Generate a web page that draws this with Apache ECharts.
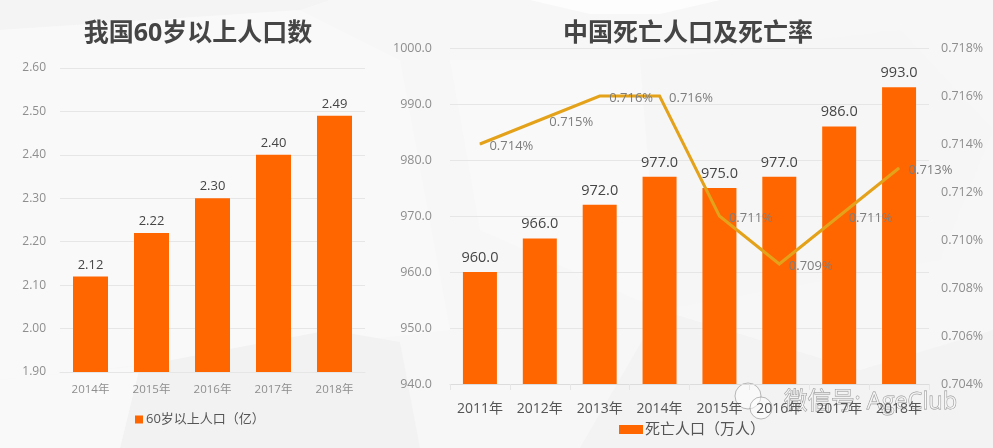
<!DOCTYPE html>
<html><head><meta charset="utf-8">
<style>html,body{margin:0;padding:0;background:#f8f8f8}#c{width:993px;height:448px}</style>
<script src="https://cdn.jsdelivr.net/npm/echarts@6/dist/echarts.min.js"></script>
</head><body><div id="c"></div>
<script>
const elderYears = ['2014年','2015年','2016年','2017年','2018年'];
const elderValues = [2.12,2.22,2.30,2.40,2.49];
const deathYears = ['2011年','2012年','2013年','2014年','2015年','2016年','2017年','2018年'];
const deathValues = [960,966,972,977,975,977,986,993];
const deathRates = [0.714,0.715,0.716,0.716,0.711,0.709,0.711,0.713];
const elderTitle = '我国60岁以上人口数';
const deathTitle = '中国死亡人口及死亡率';
const elderName = '60岁以上人口（亿）';
const deathName = '死亡人口（万人）';
const rateName = '死亡率';

const FONT = '"Open Sans","Noto Sans CJK SC",sans-serif';
const ORANGE = '#ff6600', GOLD = '#e3a21a', TICK = '#8e8e8e', DARK = '#454545', GRID = '#e6e6e6';
const poly = (pts, fill) => ({type:'polygon', silent:true, z:-10, shape:{points:pts}, style:{fill}});
const chart = echarts.init(document.getElementById('c'), null, {renderer:'canvas'});
chart.setOption({
  animation:false,
  backgroundColor:'#f7f7f7',
  textStyle:{fontFamily:FONT},
  title:[
    {text:elderTitle,left:193,top:16,textAlign:'center',textStyle:{fontSize:25,fontWeight:'bold',color:DARK,fontFamily:FONT}},
    {text:deathTitle,left:683,top:16,textAlign:'center',textStyle:{fontSize:25,fontWeight:'bold',color:DARK,fontFamily:FONT}}
  ],
  legend:[
    {data:[elderName],left:130,top:408,itemWidth:8,itemHeight:8,itemGap:4,icon:'rect',textStyle:{fontSize:13,color:'#555',padding:[0,0,0,-2]}},
    {data:[deathName],left:614,top:417,itemWidth:24,itemHeight:9,icon:'rect',textStyle:{fontSize:15,color:'#555',padding:[0,0,0,-3]}}
  ],
  grid:[
    {left:60,right:628,top:68,bottom:76},
    {left:450,right:64,top:48,bottom:64}
  ],
  xAxis:[
    {type:'category',gridIndex:0,data:elderYears,axisTick:{show:false},axisLine:{lineStyle:{color:GRID}},
     axisLabel:{color:TICK,fontSize:11.5,margin:12}},
    {type:'category',gridIndex:1,data:deathYears,axisTick:{show:true,length:6,lineStyle:{color:GRID}},axisLine:{lineStyle:{color:'#dcdcdc'}},
     axisLabel:{color:'#555',fontSize:14,margin:18,interval:0}}
  ],
  yAxis:[
    {type:'value',gridIndex:0,min:1.9,max:2.6,interval:0.1,axisLine:{show:false},axisTick:{show:false},
     splitLine:{lineStyle:{color:GRID}},axisLabel:{color:TICK,fontSize:12,margin:14,formatter:v=>v.toFixed(2)}},
    {type:'value',gridIndex:1,min:940,max:1000,interval:10,axisLine:{show:false},axisTick:{show:false},
     splitLine:{lineStyle:{color:GRID}},axisLabel:{color:TICK,fontSize:12.5,margin:18,formatter:v=>v.toFixed(1)}},
    {type:'value',gridIndex:1,position:'right',min:0.704,max:0.718,interval:0.002,axisLine:{show:false},axisTick:{show:false},
     splitLine:{show:false},axisLabel:{color:TICK,fontSize:12.5,margin:12,formatter:v=>v.toFixed(3)+'%'}}
  ],
  series:[
    {name:elderName,type:'bar',xAxisIndex:0,yAxisIndex:0,data:elderValues,barWidth:35,itemStyle:{color:ORANGE},
     label:{show:true,position:'top',distance:5,fontSize:13,color:DARK,formatter:p=>p.value.toFixed(2)}},
    {name:deathName,type:'bar',xAxisIndex:1,yAxisIndex:1,data:deathValues,barWidth:34,itemStyle:{color:ORANGE},
     label:{show:true,position:'top',distance:7,fontSize:14.5,color:DARK,formatter:p=>p.value.toFixed(1)}},
    {name:rateName,type:'line',xAxisIndex:1,yAxisIndex:2,data:deathRates,z:5,showSymbol:true,symbol:'circle',symbolSize:1,
     itemStyle:{color:GOLD},lineStyle:{color:GOLD,width:3,join:'miter'},
     label:{show:true,position:'right',distance:9,offset:[0,2],fontSize:13,color:'#7d7d7d',formatter:p=>p.value.toFixed(3)+'%'}}
  ],
  graphic:[
    poly([[0,0],[0,30],[300,10],[330,0]],'#f4f4f4'),
    poly([[530,0],[720,0],[660,14],[590,14]],'#fdfdfd'),
    poly([[0,30],[300,10],[400,60],[450,330],[140,365],[0,380]],'#f9f9f9'),
    poly([[140,366],[330,330],[400,342],[420,448],[120,448]],'#f2f2f2'),
    poly([[450,60],[640,60],[660,310],[480,230]],'#f9f9f9'),
    poly([[640,60],[900,30],[993,130],[940,260],[660,310]],'#f6f6f6'),
    poly([[0,380],[140,366],[120,448],[0,448]],'#f9f9f9'),
    poly([[660,310],[860,370],[993,330],[993,448],[580,448]],'#f3f3f3'),
    {type:'group',z:100,silent:true,children:[
      {type:'circle',shape:{cx:748,cy:396,r:13},style:{fill:'rgba(255,255,255,0.5)',stroke:'rgba(130,130,130,0.55)',lineWidth:1}},
      {type:'circle',shape:{cx:761,cy:408,r:11},style:{fill:'rgba(255,255,255,0.5)',stroke:'rgba(130,130,130,0.55)',lineWidth:1}},
      {type:'text',style:{x:784,y:402,text:'微信号: AgeClub',fontFamily:FONT,fontSize:23.5,verticalAlign:'middle',fill:'rgba(255,255,255,0.6)',stroke:'rgba(90,90,90,0.65)',lineWidth:0.8}}
    ]}
  ]
});
</script></body></html>
